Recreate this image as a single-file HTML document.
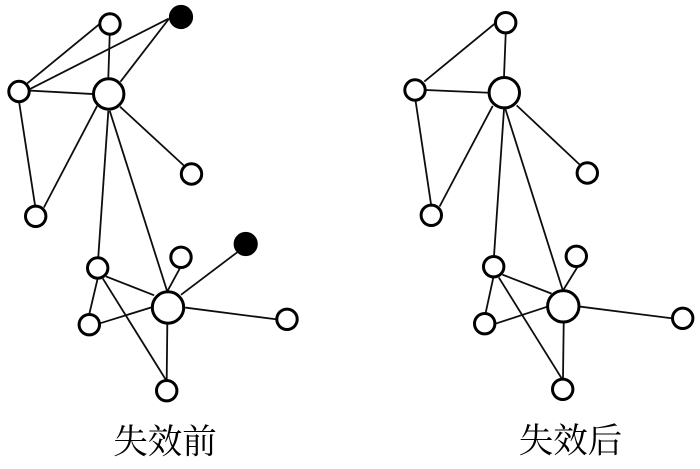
<!DOCTYPE html>
<html>
<head>
<meta charset="utf-8">
<style>
html,body{margin:0;padding:0;background:#fff;}
svg{display:block;}
</style>
</head>
<body>
<svg width="700" height="469" viewBox="0 0 700 469" xmlns="http://www.w3.org/2000/svg">
<defs><filter id="b" x="-5%" y="-5%" width="110%" height="110%"><feGaussianBlur stdDeviation="0.3"/></filter></defs>
<g filter="url(#b)">
<g stroke="#111" stroke-width="1.8" fill="none" stroke-linecap="square">
<!-- left -->
<line x1="98.3" y1="25" x2="28" y2="82.7"/>
<line x1="109.7" y1="35" x2="108.3" y2="78"/>
<line x1="168" y1="19" x2="28" y2="90"/>
<line x1="168" y1="20" x2="121" y2="81"/>
<line x1="30.7" y1="90.7" x2="92.7" y2="94"/>
<line x1="19.3" y1="103.3" x2="35" y2="205"/>
<line x1="96.7" y1="106.7" x2="44.3" y2="206.7"/>
<line x1="120.7" y1="107.3" x2="183.3" y2="165"/>
<line x1="108.3" y1="111.7" x2="98.3" y2="256.7"/>
<line x1="110" y1="111.7" x2="167.3" y2="291.7"/>
<line x1="97.7" y1="278.3" x2="89.3" y2="314"/>
<line x1="106.7" y1="276.7" x2="153.3" y2="295"/>
<line x1="103.3" y1="279.3" x2="166" y2="380"/>
<line x1="100" y1="323.3" x2="151.7" y2="307.3"/>
<line x1="179.3" y1="269.3" x2="167.7" y2="290.7"/>
<line x1="236.7" y1="252.7" x2="181.7" y2="294.3"/>
<line x1="186" y1="307.7" x2="276" y2="319.3"/>
<line x1="167.3" y1="325" x2="166.7" y2="379.3"/>
<!-- right -->
<line x1="494.3" y1="24" x2="425" y2="81"/>
<line x1="505.7" y1="34" x2="504" y2="76.7"/>
<line x1="426" y1="90" x2="488.3" y2="92.7"/>
<line x1="415.7" y1="101.7" x2="431" y2="204"/>
<line x1="492.3" y1="106.7" x2="440" y2="205.7"/>
<line x1="517.3" y1="106" x2="579" y2="164"/>
<line x1="504" y1="109.3" x2="494" y2="256"/>
<line x1="505.7" y1="110" x2="562.7" y2="290"/>
<line x1="493.3" y1="277.7" x2="485.7" y2="312.7"/>
<line x1="503.3" y1="275" x2="550.7" y2="293.3"/>
<line x1="499.3" y1="278.3" x2="561" y2="377.3"/>
<line x1="496.7" y1="323.3" x2="547.3" y2="306.7"/>
<line x1="576.7" y1="268.3" x2="563.3" y2="290"/>
<line x1="580.7" y1="306.7" x2="671.7" y2="318.3"/>
<line x1="563.7" y1="323.3" x2="563" y2="377.3"/>
</g>
<g stroke="#000" stroke-width="3" fill="#fff">
<!-- left nodes -->
<circle cx="110" cy="24" r="10.2"/>
<circle cx="19" cy="91.5" r="10.2"/>
<circle cx="108.7" cy="94" r="15.2"/>
<circle cx="191.5" cy="174" r="10.2"/>
<circle cx="35.7" cy="216.3" r="10.2"/>
<circle cx="97.7" cy="268" r="10.2"/>
<circle cx="181" cy="257.3" r="10.2"/>
<circle cx="89.3" cy="324.7" r="10.2"/>
<circle cx="168" cy="307.5" r="15.7"/>
<circle cx="287" cy="319.3" r="10.2"/>
<circle cx="166.7" cy="390.7" r="10.2"/>
<circle cx="181" cy="17" r="10.6" fill="#000"/>
<circle cx="245.7" cy="244" r="10.6" fill="#000"/>
<!-- right nodes -->
<circle cx="505.7" cy="22.7" r="10.2"/>
<circle cx="415" cy="90" r="10.2"/>
<circle cx="504.3" cy="92.7" r="15.2"/>
<circle cx="587.3" cy="173" r="10.2"/>
<circle cx="431.3" cy="215.3" r="10.2"/>
<circle cx="493.7" cy="266.7" r="10.2"/>
<circle cx="576.3" cy="256.3" r="10.2"/>
<circle cx="484.7" cy="323.7" r="10.2"/>
<circle cx="563.3" cy="306.3" r="15.7"/>
<circle cx="682.7" cy="318.3" r="10.2"/>
<circle cx="562.7" cy="389.3" r="10.2"/>
</g>
<g font-family="'Noto Serif CJK SC','Liberation Serif',serif" font-size="34.5" fill="#000" text-anchor="middle">
<text x="165" y="453.5">失效前</text>
<text x="570.5" y="452.5">失效后</text>
</g>
</g>
</svg>
</body>
</html>
